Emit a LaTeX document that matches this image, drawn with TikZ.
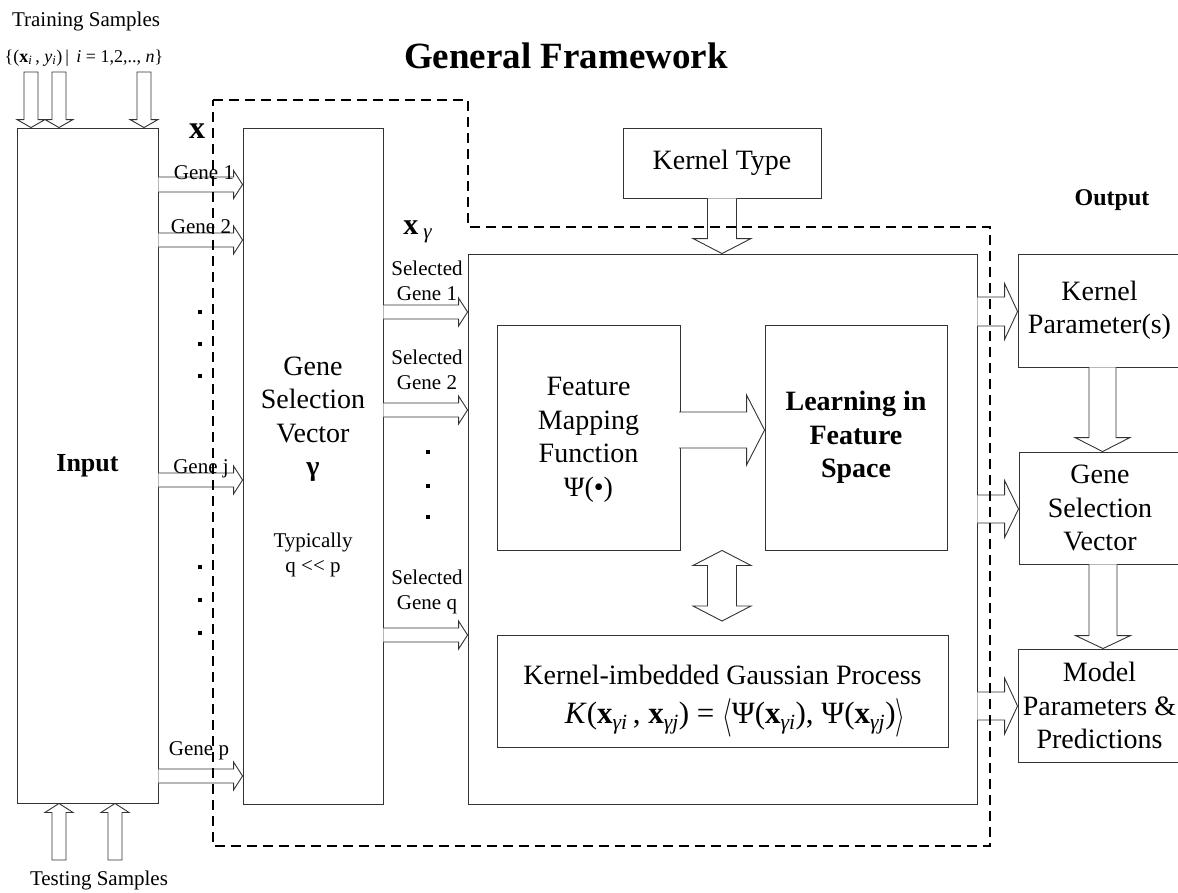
\documentclass[tikz,border=0pt]{standalone}
\usepackage{fontspec}
\setmainfont{Liberation Serif}
\usetikzlibrary{calc}
\newcommand\fzBig{\fontsize{28}{33.5}\selectfont}
\newcommand\fzSmall{\fontsize{21}{25}\selectfont}
\newcommand\bigL{\raisebox{-0.14em}{\scalebox{1}[1.55]{$\langle$}}}
\newcommand\bigR{\raisebox{-0.14em}{\scalebox{1}[1.55]{$\rangle$}}}
\tikzset{
  box/.style={draw=black!80, line width=0.9pt, fill=white, inner sep=0pt, align=center, font=\fzBig},
  blk/.style={draw=black!80, line width=0.9pt, fill=white, line join=miter},
  lbl/.style={inner sep=0pt, align=center, font=\fzSmall},
  dotsq/.style={fill=black, minimum size=4pt, inner sep=0pt},
  frame/.style={draw=black, line width=2.2pt, dash pattern=on 10pt off 6pt}
}
% right block arrow: start, end, y centre, shaft half, head half, head length
\newcommand{\rarr}[6]{\filldraw[blk] let \p1=#1, \p2=#2, \p3=(0,#3) in
  (\x1,\y3+#4pt) -- (\x2-#6pt,\y3+#4pt) -- (\x2-#6pt,\y3+#5pt) -- (\x2,\y3)
  -- (\x2-#6pt,\y3-#5pt) -- (\x2-#6pt,\y3-#4pt) -- (\x1,\y3-#4pt);}
% down block arrow: start, end, x centre, shaft half, head half, head length
\newcommand{\darr}[6]{\filldraw[blk] let \p1=#1, \p2=#2, \p3=(#3,0) in
  (\x3-#4pt,\y1) -- (\x3-#4pt,\y2+#6pt) -- (\x3-#5pt,\y2+#6pt) -- (\x3,\y2)
  -- (\x3+#5pt,\y2+#6pt) -- (\x3+#4pt,\y2+#6pt) -- (\x3+#4pt,\y1);}
% closed down block arrow
\newcommand{\cdarr}[6]{\filldraw[blk] let \p1=#1, \p2=#2, \p3=(#3,0) in
  (\x3-#4pt,\y1) -- (\x3-#4pt,\y2+#6pt) -- (\x3-#5pt,\y2+#6pt) -- (\x3,\y2)
  -- (\x3+#5pt,\y2+#6pt) -- (\x3+#4pt,\y2+#6pt) -- (\x3+#4pt,\y1) -- cycle;}
% closed up block arrow
\newcommand{\uarr}[6]{\filldraw[blk] let \p1=#1, \p2=#2, \p3=(#3,0) in
  (\x3-#4pt,\y1) -- (\x3-#4pt,\y2-#6pt) -- (\x3-#5pt,\y2-#6pt) -- (\x3,\y2)
  -- (\x3+#5pt,\y2-#6pt) -- (\x3+#4pt,\y2-#6pt) -- (\x3+#4pt,\y1) -- cycle;}
% double vertical block arrow: top tip, bottom tip, x centre, shaft half, head half, head length
\newcommand{\vdarr}[6]{\filldraw[blk] let \p1=#1, \p2=#2, \p3=(#3,0) in
  (\x3,\y1) -- (\x3+#5pt,\y1-#6pt) -- (\x3+#4pt,\y1-#6pt) -- (\x3+#4pt,\y2+#6pt)
  -- (\x3+#5pt,\y2+#6pt) -- (\x3,\y2) -- (\x3-#5pt,\y2+#6pt) -- (\x3-#4pt,\y2+#6pt)
  -- (\x3-#4pt,\y1-#6pt) -- (\x3-#5pt,\y1-#6pt) -- cycle;}
\begin{document}
\begin{tikzpicture}[x=1pt,y=-1pt]
\useasboundingbox[fill=white] (0,0) rectangle (1178,892);

% title and outer labels
\node[inner sep=0pt, font=\fontsize{37}{40}\selectfont\bfseries] (title) at (566,56) {General Framework};
\node[lbl] (train) at (86,21) {Training Samples};
\node[inner sep=0pt, font=\fontsize{18}{22}\selectfont] (trainf) at (84,58)
  {\{(\textbf{x}\textsubscript{\textit{i}}\,, \textit{y}\textsubscript{\textit{i}})\,|\, \textit{i} = 1,2,.., \textit{n}\}};
\node[lbl] (test) at (99,880) {Testing Samples};
\node[inner sep=0pt, font=\fontsize{32}{36}\selectfont\bfseries] (xlab) at (197,131) {x};
\node[inner sep=0pt, font=\fontsize{30}{34}\selectfont] (xglab) at (418,232) {\textbf{x}\,\textsubscript{\textit{γ}}};
\node[inner sep=0pt, font=\fontsize{24}{28}\selectfont\bfseries] (outlab) at (1112,200) {Output};

% boxes
\node[box, minimum width=141pt, minimum height=675pt, font=\fontsize{26}{30}\selectfont\bfseries] (inp) at (87.5,465.5) {Input};
\node[box, minimum width=140pt, minimum height=676pt] (gsv) at (313,466) {};
\node[box, minimum width=509pt, minimum height=550pt] (learn) at (722.5,529) {};
\node[box, minimum width=198pt, minimum height=70pt] (ktype) at (722,163) {Kernel Type};
\node[box, minimum width=183pt, minimum height=225pt] (fm) at (588.5,437.5) {};
\node[box, minimum width=182pt, minimum height=225pt] (lfs) at (856,437.5) {\textbf{Learning in}\\\textbf{Feature}\\\textbf{Space}};
\node[box, minimum width=451pt, minimum height=112pt] (gp) at (722.5,691) {};
\node[box, minimum width=163pt, minimum height=113pt] (kp) at (1099.5,310.5) {Kernel\\Parameter(s)};
\node[box, minimum width=162pt, minimum height=112pt] (gsvr) at (1100,508) {Gene\\Selection\\Vector};
\node[box, minimum width=163pt, minimum height=113pt] (model) at (1099.5,705.5) {Model\\Parameters \&\\Predictions};

% texts inside boxes
\node[inner sep=0pt, align=center, font=\fzBig] (gsvt) at (313,419) {Gene\\Selection\\Vector\\\textbf{γ}};
\node[lbl] (typ) at (313,555) {Typically\\q {<}{<} p};
\node[inner sep=0pt, align=center, font=\fzBig] (fmt) at (588.5,440) {Feature\\Mapping\\Function\\Ψ(•)};
\node[inner sep=0pt, font=\fzBig] (gpt1) at (722.5,675) {Kernel-imbedded Gaussian Process};
\node[inner sep=0pt, font=\fontsize{31}{36}\selectfont] (gpt2) at (735,718)
  {\textit{K}(\textbf{x}\textsubscript{\textit{γi}}\,, \textbf{x}\textsubscript{\textit{γj}}) = \bigL Ψ(\textbf{x}\textsubscript{\textit{γi}}), Ψ(\textbf{x}\textsubscript{\textit{γj}})\bigR};

% training / testing arrows
\coordinate (ts1) at (31,72);
\coordinate (ts2) at (59,72);
\coordinate (ts3) at (144,72);
\cdarr{(ts1)}{(inp.north)}{31}{7}{14}{8}
\cdarr{(ts2)}{(inp.north)}{59}{7}{14}{8}
\cdarr{(ts3)}{(inp.north)}{144}{7}{14}{8}
\coordinate (te1) at (59,860);
\coordinate (te2) at (115,860);
\uarr{(te1)}{(inp.south)}{59}{7}{14}{9}
\uarr{(te2)}{(inp.south)}{115}{7}{14}{9}

% gene arrows
\rarr{(inp.east)}{(gsv.west)}{184.5}{7.5}{14}{9}
\rarr{(inp.east)}{(gsv.west)}{240}{7}{14}{9}
\rarr{(inp.east)}{(gsv.west)}{480}{7}{14}{9}
\rarr{(inp.east)}{(gsv.west)}{776}{7}{14}{9}
\node[lbl, anchor=base] (g1) at (204,179) {Gene 1};
\node[lbl, anchor=base] (g2) at (201,233) {Gene 2};
\node[lbl, anchor=base] (gj) at (201,473) {Gene j};
\node[lbl, anchor=base] (gp2) at (199,755) {Gene p};
\foreach \yy [count=\i] in {312,344,376,567,600,633}
  \node[dotsq] (d\i) at (200,\yy) {};

% selected gene arrows
\rarr{(gsv.east)}{(learn.west)}{312}{7}{14}{9}
\rarr{(gsv.east)}{(learn.west)}{410}{7}{14}{9}
\rarr{(gsv.east)}{(learn.west)}{635}{7}{14}{9}
\node[lbl] (s1) at (427,281) {Selected\\Gene 1};
\node[lbl] (s2) at (427,370) {Selected\\Gene 2};
\node[lbl] (sq) at (427,592) {Selected\\Gene q};
\foreach \yy [count=\i] in {452,486,517}
  \node[dotsq] (e\i) at (428,\yy) {};

% inner arrows
\darr{(ktype.south)}{(learn.north)}{722}{14.5}{29}{15}
\coordinate (fmout) at (679,430);
\rarr{(fmout)}{(lfs.west)}{430}{18}{35}{18}
\coordinate (dtip) at (722,621);
\vdarr{(fm.south)}{(dtip)}{722}{14.5}{29}{15}

% output arrows
\rarr{(learn.east)}{(kp.west)}{311.5}{14.5}{28}{13}
\rarr{(learn.east)}{(gsvr.west)}{509}{14}{28.5}{14}
\rarr{(learn.east)}{(model.west)}{706}{14}{28}{13}
\darr{(kp.south)}{(gsvr.north)}{1102.5}{13.5}{27.5}{14}
\darr{(gsvr.south)}{(model.north)}{1103}{14}{27.5}{13}

% dashed framework outline
\draw[frame] (213,100) -- (468,100) -- (468,227) -- (990,227) -- (990,846) -- (213,846) -- cycle;
\end{tikzpicture}
\end{document}
